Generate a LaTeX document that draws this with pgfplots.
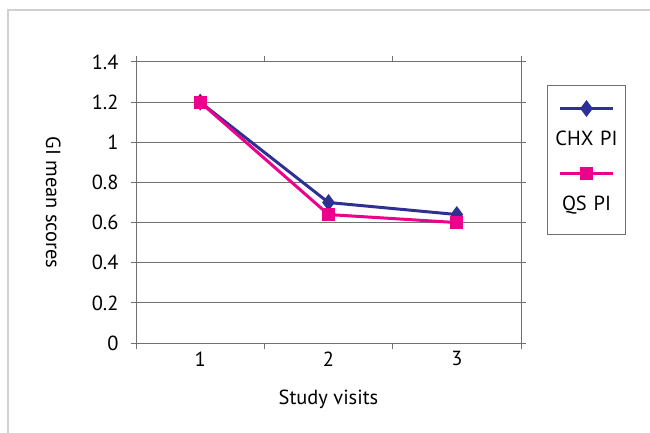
\documentclass[border=0pt]{standalone}
\usepackage{pgfplots}
\pgfplotsset{compat=1.18}
\usepackage{fontspec}
\setmainfont{PT Sans}
\definecolor{chx}{HTML}{2E3192}
\definecolor{qs}{HTML}{EC008C}
\definecolor{axgray}{HTML}{707070}
\begin{document}
\begin{tikzpicture}[x=1bp,y=1bp]
\path[use as bounding box] (0,0) rectangle (650,432);
\draw[black!18, line width=1.5bp] (8,-5) -- (8,422) -- (660,422);
\begin{axis}[
  at={(136bp,89bp)}, anchor=south west,
  scale only axis, width=385bp, height=281bp,
  xmin=0.5, xmax=3.5, ymin=0, ymax=1.4,
  xtick={1,2,3},
  minor xtick={0.5,1.5,2.5,3.5},
  ytick={0,0.2,0.4,0.6,0.8,1,1.2,1.4},
  /pgf/number format/assume math mode=true,
  tick label style={font=\fontsize{20.5}{24}\selectfont},
  label style={font=\fontsize{20.5}{24}\selectfont},
  yticklabel style={/pgf/number format/fixed, xshift=-9bp},
  tick align=outside,
  x tick style={draw=none},
  minor x tick style={draw=axgray, line width=1bp},
  minor tick length=6bp,
  y tick style={draw=axgray, line width=1bp},
  major tick length=5bp,
  ymajorgrids,
  grid style={draw=axgray, line width=1bp},
  axis line style={draw=axgray, line width=1bp},
  xlabel={Study visits},
  ylabel={GI mean scores},
  xlabel style={at={(axis description cs:0.5,-0.199)}, anchor=center},
  ylabel style={at={(axis description cs:-0.215,0.5)}, anchor=center, rotate=180},
  legend image code/.code={\draw[overlay, mark repeat=2, mark phase=2, #1] plot coordinates {(10bp,37bp) (36bp,37bp) (62bp,37bp)};},
  legend style={at={(axis description cs:1.0675,0.918)}, anchor=north west,
    draw=axgray, line width=1bp, inner xsep=3bp, inner ysep=9.5bp, row sep=0pt,
    cells={anchor=base},
    nodes={font=\fontsize{20.5}{24}\selectfont, text width=70bp, align=center, inner xsep=1bp, inner ysep=2bp, text height=48.5bp, text depth=12.5bp}},
]
\addplot[chx, line width=3bp, mark=diamond*, mark size=6bp, mark options={solid}] coordinates {(1,1.2) (2,0.7) (3,0.64)};
\addlegendentry{CHX PI}
\addplot[qs, line width=3bp, mark=square*, mark size=5bp, mark options={solid}] coordinates {(1,1.2) (2,0.64) (3,0.6)};
\addlegendentry{QS PI}
\end{axis}
\end{tikzpicture}
\end{document}
